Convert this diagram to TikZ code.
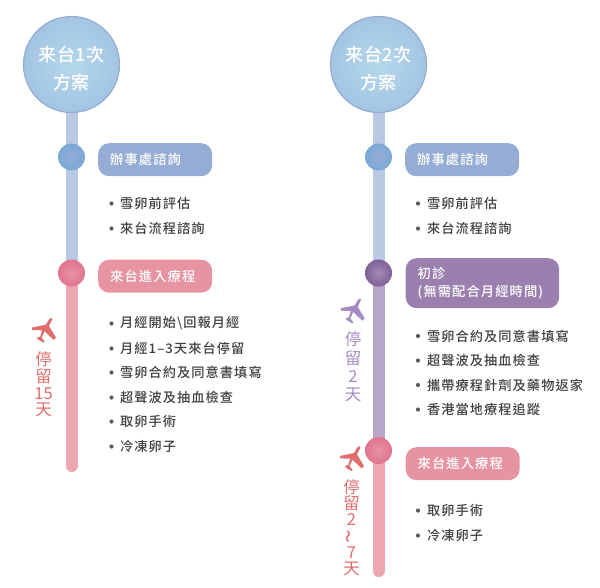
\documentclass[tikz,border=0pt]{standalone}
\usepackage{fontspec}
\setmainfont{Noto Sans CJK TC Medium}
\newfontfamily\lsfont[LetterSpace=8]{Noto Sans CJK TC Medium}
\newfontfamily\headfont[LetterSpace=2]{Noto Sans CJK TC Medium}
\newfontfamily\stayfont{Noto Sans CJK TC}
\usetikzlibrary{backgrounds}
\definecolor{trackblue}{HTML}{B9C9E3}
\definecolor{trackpink}{HTML}{ECA7B0}
\definecolor{trackpurple}{HTML}{B7A6C9}
\definecolor{pillblue}{HTML}{95ACD4}
\definecolor{pillpink}{HTML}{E693A2}
\definecolor{pillpurple}{HTML}{9B80AF}
\definecolor{salmon}{HTML}{E26D6D}
\definecolor{lilac}{HTML}{A68CC4}
\definecolor{bodytxt}{HTML}{3F3F3F}
\definecolor{headin}{HTML}{B5D8EB}
\definecolor{headout}{HTML}{A3C5E3}
\definecolor{dotbedge}{HTML}{7AA9D6}
\definecolor{dotpedge}{HTML}{E2748F}
\definecolor{dotvedge}{HTML}{7E5F97}
\tikzset{
  headcircle/.style={circle,minimum size=96pt,inner sep=0pt,draw=pillblue,line width=1.2pt,
    inner color=headin,outer color=headout},
  headtext/.style={text=white,align=center,inner sep=0pt,font=\fontsize{18}{28}\headfont},
  dotblue/.style={circle,minimum size=27pt,inner sep=0pt,inner color=pillblue,outer color=dotbedge},
  dotpink/.style={circle,minimum size=27pt,inner sep=0pt,inner color=pillpink,outer color=dotpedge},
  dotpurple/.style={circle,minimum size=27pt,inner sep=0pt,inner color=pillpurple!90,outer color=dotvedge},
  pill/.style={rounded corners=11pt,anchor=north west,inner xsep=12pt,inner ysep=0pt,text=white,
    align=left,text width=#1,minimum height=33pt,font=\fontsize{13.3}{18.5}\lsfont},
  track/.style={line width=12pt,line cap=butt},
  trackend/.style={line width=12pt,line cap=round},
  item/.style={anchor=west,inner sep=0pt,text=bodytxt,font=\fontsize{13.2}{13}\lsfont},
  bullet/.style={circle,fill=bodytxt!85,minimum size=4.2pt,inner sep=0pt},
  stay/.style={align=center,inner sep=0pt,font=\fontsize{16.5}{#1}\stayfont},
  plane/.pic={
    \fill (9,-10) -- (5.7,-3.3) -- (12.7,8.3) -- (10.3,10.7) -- (1.3,2) -- (-1.7,8.3)
      -- (1.3,12.3) -- (0.3,13.3) -- (-4.3,10.7) -- (-6.3,9) -- (-5.7,8) -- (-3,7.3)
      -- (-1.3,1) -- (-11,0.7) -- (-11.3,-1.7) -- (2.7,-4.7) -- (6,-10.3)
      .. controls (7,-12) and (9.6,-12) .. (9,-10) -- cycle;
  }
}
\begin{document}
\begin{tikzpicture}[x=1pt,y=-1pt]
\useasboundingbox (0,0) rectangle (600,587);
% ---- left column
\coordinate (lend) at (71.5,466);
\node[dotblue] (la) at (71.5,157) {};
\node[dotpink] (lb) at (71.5,273) {};
\node[headcircle] (lh) at (71.5,64.5) {};
\node[headtext] (lht) at (71.5,69) {来台1次\\方案};
\begin{scope}[on background layer]
\draw[track,trackblue] (lh) -- (lb.center);
\draw[trackend,trackpink] (lb.center) -- (lend);
\end{scope}
\node[pill=90pt,fill=pillblue] (lat) at (98,143) {辦事處諮詢};
\node[pill=90pt,fill=pillpink] (lbt) at (98,259.5) {來台進入療程};
\foreach \y/\t in {203.5/雪卵前評估,228.5/來台流程諮詢,323.5/月經開始\textbackslash 回報月經,348.5/月經1–3天來台停留,372.5/雪卵合約及同意書填寫,397.5/超聲波及抽血檢查,421.5/取卵手術,446.5/冷凍卵子}{
  \node[bullet] at (111.5,\y) {};
  \node[item] at (120,\y) {\t};
}
\pic[salmon] at (43.3,329.3) {plane};
\node[stay=16.7,text=salmon] (ls) at (43.5,384.5) {停\\留\\15\\天};
% ---- right column
\coordinate (rend) at (378.5,571);
\node[dotblue] (ra) at (378.5,157) {};
\node[dotpurple] (rb) at (378.5,273) {};
\node[dotpink] (rc) at (378.5,450.5) {};
\node[headcircle] (rh) at (378.5,64.5) {};
\node[headtext] (rht) at (378.5,69) {来台2次\\方案};
\begin{scope}[on background layer]
\draw[track,trackblue] (rh) -- (rb.center);
\draw[track,trackpurple] (rb.center) -- (rc.center);
\draw[trackend,trackpink] (rc.center) -- (rend);
\end{scope}
\node[pill=90pt,fill=pillblue] (rat) at (405,143) {辦事處諮詢};
\node[pill=129.5pt,fill=pillpurple,minimum height=50pt] (rbt) at (405.5,258) {初診\\(無需配合月經時間)};
\node[pill=90pt,fill=pillpink] (rct) at (405.5,447) {來台進入療程};
\foreach \y/\t in {203.5/雪卵前評估,228.5/來台流程諮詢,336/雪卵合約及同意書填寫,360.5/超聲波及抽血檢查,385/攜帶療程針劑及藥物返家,409.5/香港當地療程追蹤,510.5/取卵手術,535.5/冷凍卵子}{
  \node[bullet] at (418,\y) {};
  \node[item] at (427,\y) {\t};
}
\pic[lilac] at (352,310) {plane};
\node[stay=18.3,text=lilac] (rs) at (353,367) {停\\留\\2\\天};
\pic[salmon] at (351.3,457.7) {plane};
\node[stay=16.2,text=salmon] (rt) at (351.5,527.5) {停\\留\\2\\\rotatebox[origin=c]{90}{\scalebox{1.5}{\char`\~}}\\7\\天};
\end{tikzpicture}
\end{document}
